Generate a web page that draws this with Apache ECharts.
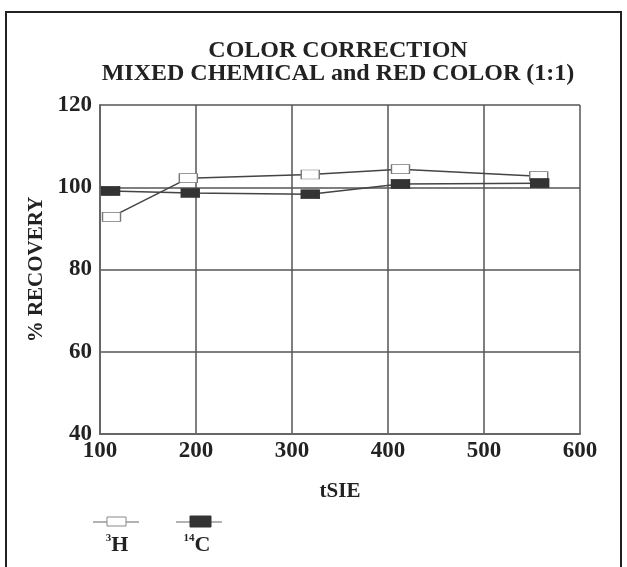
<!DOCTYPE html>
<html>
<head>
<meta charset="utf-8">
<script src="https://cdn.jsdelivr.net/npm/echarts@6/dist/echarts.min.js"></script>
<style>html,body{margin:0;padding:0;background:#fff}#c{width:627px;height:567px}</style>
</head>
<body>
<div id="c"></div>
<script>
const titleLines = ['COLOR CORRECTION', 'MIXED CHEMICAL and RED COLOR (1:1)'];
const xTicks = [100, 200, 300, 400, 500, 600];
const yTicks = [40, 60, 80, 100, 120];
const tsieH3 = [112, 192, 319, 413, 557];
const recoveryH3 = [92.8, 102.2, 103.1, 104.4, 102.7];
const tsieC14 = [111, 194, 319, 413, 558];
const recoveryC14 = [99.1, 98.6, 98.3, 100.8, 101.0];
const seriesNames = ['3H', '14C'];

const FONT = 'Liberation Serif';
const chart = echarts.init(document.getElementById('c'), null, {renderer: 'canvas'});
const pairs = (xs, ys) => xs.map((x, i) => [x, ys[i]]);

chart.setOption({
  backgroundColor: '#fff',
  animation: false,
  title: {
    text: titleLines.join('\n'),
    left: 333, top: 34, textAlign: 'center',
    textStyle: {fontFamily: FONT, fontWeight: 'bold', fontSize: 24, lineHeight: 23, color: '#222'}
  },
  grid: {left: 100, right: 47, top: 105, bottom: 133},
  xAxis: {
    type: 'value', min: xTicks[0], max: xTicks[xTicks.length - 1], interval: 100,
    name: 'tSIE', nameLocation: 'middle', nameGap: 47,
    nameTextStyle: {fontFamily: FONT, fontWeight: 'bold', fontSize: 21, color: '#222'},
    axisLine: {show: true, lineStyle: {color: '#666', width: 2}},
    axisTick: {show: false},
    splitLine: {show: true, lineStyle: {color: '#555', width: 1.5}},
    axisLabel: {fontFamily: FONT, fontWeight: 'bold', fontSize: 23, color: '#222', margin: 6}
  },
  yAxis: {
    type: 'value', min: yTicks[0], max: yTicks[yTicks.length - 1], interval: 20,
    name: '% RECOVERY', nameLocation: 'middle', nameGap: 52,
    nameTextStyle: {fontFamily: FONT, fontWeight: 'bold', fontSize: 21, color: '#222'},
    axisLine: {show: true, lineStyle: {color: '#666', width: 2}},
    axisTick: {show: false},
    splitLine: {show: true, lineStyle: {color: '#555', width: 1.5}},
    axisLabel: {fontFamily: FONT, fontWeight: 'bold', fontSize: 23, color: '#222', margin: 8}
  },
  series: [
    {
      name: seriesNames[0], type: 'line', data: pairs(tsieH3, recoveryH3),
      symbol: 'rect', symbolSize: [18, 9],
      lineStyle: {color: '#444', width: 1.5},
      itemStyle: {color: '#fff', borderColor: '#777', borderWidth: 1},
      z: 3
    },
    {
      name: seriesNames[1], type: 'line', data: pairs(tsieC14, recoveryC14),
      symbol: 'rect', symbolSize: [18, 9],
      lineStyle: {color: '#444', width: 1.5},
      itemStyle: {color: '#333', borderColor: '#333'},
      z: 4
    }
  ],
  graphic: [
    {type: 'rect', shape: {x: 6, y: 12, width: 615, height: 600}, style: {fill: 'none', stroke: '#222', lineWidth: 2}, silent: true},
    // legend 3H
    {type: 'line', shape: {x1: 93, y1: 522, x2: 139, y2: 522}, style: {stroke: '#666', lineWidth: 1.2}},
    {type: 'rect', shape: {x: 107, y: 517, width: 19, height: 9}, style: {fill: '#fff', stroke: '#888', lineWidth: 1}},
    {type: 'text', x: 117, y: 545, style: {
      text: '{s|3}{b|H}', align: 'center', verticalAlign: 'middle',
      rich: {s: {fontFamily: FONT, fontSize: 11, fontWeight: 'bold', fill: '#222', verticalAlign: 'top', lineHeight: 12},
             b: {fontFamily: FONT, fontSize: 22, fontWeight: 'bold', fill: '#222', lineHeight: 24}}
    }},
    // legend 14C
    {type: 'line', shape: {x1: 176, y1: 522, x2: 222, y2: 522}, style: {stroke: '#666', lineWidth: 1.2}},
    {type: 'rect', shape: {x: 190, y: 516, width: 21, height: 11}, style: {fill: '#333', stroke: '#333', lineWidth: 1}},
    {type: 'text', x: 197, y: 545, style: {
      text: '{s|14}{b|C}', align: 'center', verticalAlign: 'middle',
      rich: {s: {fontFamily: FONT, fontSize: 11, fontWeight: 'bold', fill: '#222', verticalAlign: 'top', lineHeight: 12},
             b: {fontFamily: FONT, fontSize: 22, fontWeight: 'bold', fill: '#222', lineHeight: 24}}
    }}
  ]
});
</script>
</body>
</html>
